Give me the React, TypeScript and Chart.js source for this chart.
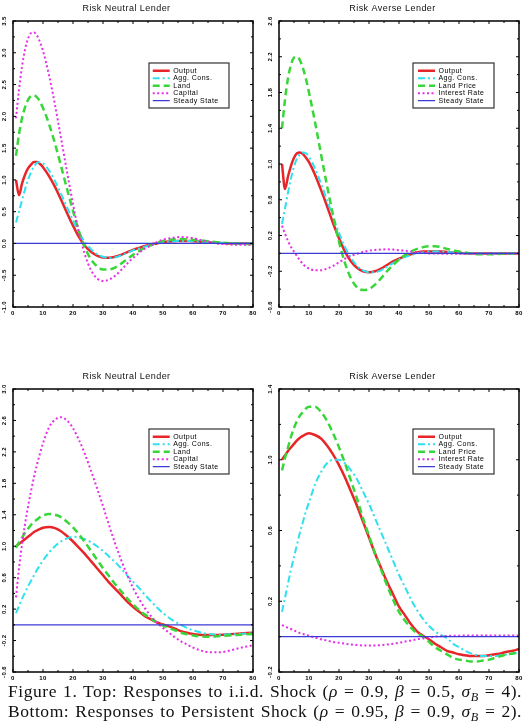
import React, { useEffect, useRef } from 'react';
import { Chart, registerables } from 'chart.js';

Chart.register(...registerables);

// ---------------- data ----------------
const PERIODS = [1, 2, 3, 4, 5, 6, 7, 8, 9, 10, 12, 14, 16, 18, 20, 22, 24, 26, 28, 30, 32, 34, 36, 38, 40, 42, 44, 46, 48, 50, 52, 54, 56, 58, 60, 62, 64, 66, 68, 70, 72, 74, 76, 78, 80];
const X_TICKS = [0, 10, 20, 30, 40, 50, 60, 70, 80];
const STEADY_T = [0, 80];
const STEADY_V = [0, 0];

// Top left: Risk Neutral Lender, i.i.d. shock
const RN_IID_Y_TICKS = [-1.0, -0.5, 0.0, 0.5, 1.0, 1.5, 2.0, 2.5, 3.0, 3.5];
const RN_IID_OUTPUT = [1.00, 0.76, 0.94, 1.08, 1.18, 1.24, 1.28, 1.28, 1.25, 1.20, 1.06, 0.89, 0.69, 0.48, 0.28, 0.10, -0.04, -0.13, -0.19, -0.22, -0.225, -0.21, -0.18, -0.14, -0.10, -0.07, -0.04, -0.015, 0.00, 0.02, 0.03, 0.035, 0.04, 0.04, 0.035, 0.03, 0.025, 0.015, 0.01, 0.005, 0.0, 0.0, 0.0, 0.0, 0.0];
const RN_IID_CONS = [0.33, 0.50, 0.68, 0.85, 1.00, 1.12, 1.21, 1.27, 1.28, 1.26, 1.15, 0.98, 0.78, 0.57, 0.36, 0.17, 0.02, -0.09, -0.17, -0.21, -0.23, -0.22, -0.19, -0.15, -0.11, -0.08, -0.05, -0.02, 0.0, 0.02, 0.03, 0.04, 0.04, 0.04, 0.035, 0.03, 0.025, 0.02, 0.01, 0.01, 0.005, 0.0, 0.0, 0.0, 0.0];
const RN_IID_LAND = [1.38, 1.72, 1.97, 2.14, 2.26, 2.32, 2.33, 2.30, 2.23, 2.13, 1.88, 1.57, 1.22, 0.86, 0.51, 0.19, -0.07, -0.25, -0.36, -0.41, -0.41, -0.38, -0.32, -0.25, -0.18, -0.12, -0.07, -0.03, 0.01, 0.04, 0.055, 0.065, 0.07, 0.065, 0.06, 0.05, 0.04, 0.03, 0.02, 0.01, 0.005, 0.0, -0.005, -0.01, -0.01];
const RN_IID_CAPITAL = [1.97, 2.42, 2.78, 3.05, 3.22, 3.31, 3.32, 3.27, 3.17, 3.03, 2.65, 2.18, 1.66, 1.13, 0.62, 0.17, -0.18, -0.42, -0.55, -0.59, -0.57, -0.51, -0.42, -0.32, -0.23, -0.15, -0.08, -0.03, 0.02, 0.06, 0.08, 0.095, 0.10, 0.095, 0.085, 0.06, 0.04, 0.02, 0.0, -0.01, -0.015, -0.02, -0.02, -0.02, -0.02];

// Top right: Risk Averse Lender, i.i.d. shock
const RA_IID_Y_TICKS = [-0.6, -0.2, 0.2, 0.6, 1.0, 1.4, 1.8, 2.2, 2.6];
const RA_IID_OUTPUT = [1.00, 0.72, 0.86, 0.98, 1.07, 1.12, 1.13, 1.11, 1.07, 1.02, 0.88, 0.71, 0.53, 0.34, 0.17, 0.02, -0.09, -0.16, -0.20, -0.21, -0.20, -0.17, -0.13, -0.09, -0.06, -0.03, -0.01, 0.01, 0.02, 0.02, 0.02, 0.02, 0.015, 0.01, 0.005, 0.0, 0.0, 0.0, 0.0, 0.0, 0.0, 0.0, 0.0, 0.0, 0.0];
const RA_IID_CONS = [0.33, 0.50, 0.68, 0.84, 0.97, 1.06, 1.11, 1.13, 1.12, 1.08, 0.95, 0.78, 0.60, 0.41, 0.23, 0.07, -0.05, -0.14, -0.19, -0.21, -0.21, -0.19, -0.15, -0.11, -0.07, -0.04, -0.02, 0.0, 0.01, 0.02, 0.02, 0.02, 0.015, 0.01, 0.005, 0.0, 0.0, 0.0, 0.0, 0.0, 0.0, 0.0, 0.0, 0.0, 0.0];
const RA_IID_LAND = [1.40, 1.72, 1.96, 2.11, 2.19, 2.20, 2.16, 2.07, 1.95, 1.80, 1.47, 1.11, 0.76, 0.43, 0.13, -0.11, -0.28, -0.38, -0.41, -0.40, -0.35, -0.28, -0.20, -0.13, -0.07, -0.02, 0.02, 0.05, 0.07, 0.08, 0.08, 0.07, 0.05, 0.035, 0.02, 0.01, 0.0, -0.01, -0.01, -0.01, -0.01, -0.005, 0.0, 0.0, 0.0];
const RA_IID_RATE = [0.31, 0.22, 0.14, 0.07, 0.02, -0.03, -0.08, -0.12, -0.15, -0.17, -0.19, -0.19, -0.17, -0.14, -0.10, -0.06, -0.03, -0.005, 0.015, 0.03, 0.038, 0.043, 0.045, 0.042, 0.035, 0.03, 0.02, 0.012, 0.005, 0.0, 0.0, -0.003, -0.005, -0.005, -0.005, -0.005, -0.005, -0.005, -0.005, -0.005, -0.003, 0.0, 0.0, 0.0, 0.0];

// Bottom left: Risk Neutral Lender, persistent shock
const RN_PER_Y_TICKS = [-0.6, -0.2, 0.2, 0.6, 1.0, 1.4, 1.8, 2.2, 2.6, 3.0];
const RN_PER_OUTPUT = [1.00, 1.03, 1.06, 1.09, 1.12, 1.15, 1.18, 1.20, 1.22, 1.235, 1.245, 1.23, 1.19, 1.13, 1.06, 0.98, 0.90, 0.81, 0.72, 0.63, 0.54, 0.46, 0.38, 0.30, 0.23, 0.17, 0.11, 0.07, 0.03, 0.005, -0.02, -0.05, -0.08, -0.10, -0.115, -0.125, -0.13, -0.13, -0.13, -0.125, -0.12, -0.115, -0.11, -0.105, -0.10];
const RN_PER_CONS = [0.15, 0.24, 0.33, 0.41, 0.49, 0.56, 0.63, 0.70, 0.76, 0.82, 0.92, 1.00, 1.06, 1.10, 1.12, 1.11, 1.09, 1.05, 1.00, 0.94, 0.87, 0.80, 0.72, 0.63, 0.55, 0.47, 0.38, 0.30, 0.22, 0.15, 0.09, 0.04, 0.0, -0.04, -0.07, -0.09, -0.11, -0.12, -0.125, -0.125, -0.12, -0.12, -0.115, -0.11, -0.11];
const RN_PER_LAND = [0.98, 1.05, 1.11, 1.17, 1.22, 1.27, 1.31, 1.34, 1.37, 1.39, 1.41, 1.40, 1.37, 1.31, 1.24, 1.15, 1.05, 0.94, 0.83, 0.72, 0.62, 0.52, 0.43, 0.34, 0.26, 0.19, 0.13, 0.08, 0.03, -0.01, -0.04, -0.07, -0.10, -0.12, -0.135, -0.145, -0.15, -0.15, -0.145, -0.14, -0.135, -0.13, -0.125, -0.12, -0.115];
const RN_PER_CAPITAL = [0.35, 0.72, 1.02, 1.28, 1.50, 1.70, 1.88, 2.04, 2.18, 2.31, 2.51, 2.61, 2.64, 2.60, 2.50, 2.35, 2.17, 1.96, 1.74, 1.51, 1.27, 1.04, 0.83, 0.64, 0.47, 0.33, 0.21, 0.11, 0.03, -0.04, -0.10, -0.16, -0.21, -0.25, -0.29, -0.32, -0.34, -0.35, -0.35, -0.345, -0.33, -0.31, -0.29, -0.275, -0.26];

// Bottom right: Risk Averse Lender, persistent shock
const RA_PER_Y_TICKS = [-0.2, 0.2, 0.6, 1.0, 1.4];
const RA_PER_OUTPUT = [1.00, 1.025, 1.05, 1.07, 1.09, 1.11, 1.125, 1.135, 1.145, 1.15, 1.14, 1.12, 1.08, 1.03, 0.97, 0.90, 0.82, 0.74, 0.65, 0.56, 0.47, 0.39, 0.31, 0.24, 0.17, 0.12, 0.07, 0.03, 0.005, -0.015, -0.04, -0.06, -0.08, -0.09, -0.10, -0.105, -0.11, -0.11, -0.11, -0.105, -0.10, -0.095, -0.085, -0.08, -0.07];
const RA_PER_CONS = [0.14, 0.22, 0.30, 0.38, 0.45, 0.52, 0.59, 0.65, 0.71, 0.76, 0.86, 0.93, 0.98, 1.00, 1.00, 0.98, 0.94, 0.89, 0.82, 0.75, 0.67, 0.59, 0.51, 0.43, 0.35, 0.28, 0.21, 0.15, 0.10, 0.06, 0.03, 0.01, -0.01, -0.04, -0.06, -0.08, -0.095, -0.105, -0.11, -0.11, -0.11, -0.105, -0.10, -0.095, -0.09];
const RA_PER_LAND = [0.94, 1.01, 1.07, 1.13, 1.18, 1.22, 1.25, 1.27, 1.29, 1.30, 1.30, 1.27, 1.22, 1.15, 1.07, 0.98, 0.88, 0.78, 0.67, 0.57, 0.47, 0.38, 0.29, 0.21, 0.14, 0.09, 0.05, 0.02, 0.0, -0.03, -0.06, -0.08, -0.10, -0.12, -0.13, -0.135, -0.14, -0.14, -0.135, -0.13, -0.12, -0.11, -0.10, -0.095, -0.09];
const RA_PER_RATE = [0.065, 0.058, 0.05, 0.043, 0.035, 0.028, 0.02, 0.015, 0.01, 0.005, -0.005, -0.015, -0.022, -0.03, -0.035, -0.04, -0.045, -0.048, -0.05, -0.05, -0.05, -0.048, -0.045, -0.04, -0.035, -0.028, -0.022, -0.015, -0.01, -0.005, 0.0, 0.002, 0.004, 0.005, 0.005, 0.006, 0.006, 0.006, 0.006, 0.006, 0.006, 0.006, 0.006, 0.006, 0.006];

// ---------------- styles ----------------
const LINE_STYLES: Record<string, any> = {
  output: { borderColor: '#e8262a', borderWidth: 2.5, borderDash: [] },
  cons: { borderColor: '#2fe0ee', borderWidth: 2, borderDash: [7, 3, 2, 3] },
  land: { borderColor: '#39d639', borderWidth: 2.5, borderDash: [7, 4] },
  dot: { borderColor: '#e52ee5', borderWidth: 2, borderDash: [2, 2.5] },
  steady: { borderColor: '#3b3bd6', borderWidth: 1.2, borderDash: [] },
};

const TICK_FONT = { family: 'Liberation Sans', size: 6, weight: 'bold' as const };
const LEGEND_FONT = { family: 'Liberation Sans', size: 7 };
const TITLE_FONT = { family: 'Liberation Sans', size: 9, weight: 'normal' as const };
const LETTER_SPACING = '0.45px';

const spacingPlugin = {
  id: 'spacing',
  beforeUpdate(chart: any) { chart.ctx.letterSpacing = LETTER_SPACING; },
  beforeDraw(chart: any) { chart.ctx.letterSpacing = LETTER_SPACING; },
};

const framePlugin = {
  id: 'frame',
  afterDatasetsDraw(chart: any) {
    const { ctx, chartArea: a, scales } = chart;
    const xs = scales.x.ticks.map((t: any) => t.value);
    const ys = scales.y.ticks.map((t: any) => t.value);
    const mids = (v: number[]) => v.slice(1).map((u, i) => (u + v[i]) / 2);
    ctx.save();
    ctx.strokeStyle = '#000';
    ctx.lineWidth = 1;
    ctx.setLineDash([]);
    ctx.beginPath();
    const tx = (v: number, len: number) => {
      const p = scales.x.getPixelForValue(v);
      ctx.moveTo(p, a.bottom); ctx.lineTo(p, a.bottom - len);
      ctx.moveTo(p, a.top); ctx.lineTo(p, a.top + len);
    };
    const ty = (v: number, len: number) => {
      const p = scales.y.getPixelForValue(v);
      ctx.moveTo(a.left, p); ctx.lineTo(a.left + len, p);
      ctx.moveTo(a.right, p); ctx.lineTo(a.right - len, p);
    };
    xs.forEach((v: number) => tx(v, 3));
    mids(xs).forEach((v) => tx(v, 2));
    ys.forEach((v: number) => ty(v, 3));
    mids(ys).forEach((v) => ty(v, 2));
    ctx.stroke();
    ctx.lineWidth = 1.5;
    ctx.strokeRect(a.left, a.top, a.width, a.height);
    ctx.restore();
  },
};

const legendPlace = {
  id: 'legendPlace',
  beforeDraw(chart: any, _args: any, opts: any) {
    const a = chart.chartArea;
    const ctx = chart.ctx;
    const bx = a.left + opts.dx;
    const by = a.top + opts.dy;
    ctx.save();
    ctx.fillStyle = '#fff';
    ctx.fillRect(bx, by, opts.w, opts.h);
    ctx.strokeStyle = '#333';
    ctx.lineWidth = 1.2;
    ctx.strokeRect(bx, by, opts.w, opts.h);
    ctx.restore();
    const lg = chart.legend;
    if (lg) {
      lg.left = bx + opts.ix;
      lg.top = by + opts.iy;
      lg.right = lg.left + opts.w;
      lg.bottom = lg.top + 100;
    }
  },
};

const legendLabels = (chart: any) => {
  const items = (Chart.defaults.plugins.legend.labels as any).generateLabels(chart);
  items.forEach((it: any) => {
    const ds = chart.data.datasets[it.datasetIndex];
    it.lineDash = ds.borderDash;
    it.lineWidth = ds.borderWidth;
    it.strokeStyle = ds.borderColor;
    it.fillStyle = ds.borderColor;
  });
  return items;
};

type SeriesDef = { label: string; values: number[]; kind: string };

type PanelProps = {
  title: string;
  yTicks: number[];
  series: SeriesDef[];
  left: number;
  top: number;
  padBottom: number;
  legend: { dx: number; dy: number; w: number; h: number; ix: number; iy: number };
};

const CW = 263;
const CH = 320;

function Panel({ title, yTicks, series, left, top, padBottom, legend }: PanelProps) {
  const ref = useRef<HTMLCanvasElement>(null);
  useEffect(() => {
    const datasets: any[] = series.map((s, i) => ({
      label: s.label,
      data: PERIODS.map((t, j) => ({ x: t, y: s.values[j] })),
      ...LINE_STYLES[s.kind],
      pointRadius: 0,
      fill: false,
      cubicInterpolationMode: 'monotone',
      order: -i,
    }));
    datasets.push({
      label: 'Steady State',
      data: STEADY_T.map((t, j) => ({ x: t, y: STEADY_V[j] })),
      ...LINE_STYLES.steady,
      pointRadius: 0,
      fill: false,
      order: -series.length,
    });
    const chart = new Chart(ref.current as HTMLCanvasElement, {
      type: 'line',
      data: { datasets },
      options: {
        animation: false,
        responsive: false,
        events: [],
        layout: { padding: { left: 0, right: 10, top: 0, bottom: padBottom } },
        plugins: {
          title: {
            display: true,
            text: title,
            color: '#111',
            font: TITLE_FONT,
            padding: { top: 3, bottom: 7.2 },
          },
          legend: {
            position: 'chartArea',
            align: 'start',
            labels: {
              usePointStyle: true,
              pointStyle: 'line',
              pointStyleWidth: 17,
              boxHeight: 7,
              padding: 0.5,
              color: '#000',
              font: LEGEND_FONT,
              generateLabels: legendLabels,
              sort: (a: any, b: any) => a.datasetIndex - b.datasetIndex,
            },
          },
          tooltip: { enabled: false },
          legendPlace: legend,
        } as any,
        scales: {
          x: {
            type: 'linear',
            min: 0,
            max: 80,
            afterBuildTicks: (s: any) => { s.ticks = X_TICKS.map((v) => ({ value: v })); },
            afterFit: (s: any) => { s.height = 12; },
            grid: { display: false, drawTicks: false },
            border: { display: false },
            ticks: { font: TICK_FONT, color: '#000', padding: 3, maxRotation: 0, autoSkip: false },
          },
          y: {
            type: 'linear',
            min: yTicks[0],
            max: yTicks[yTicks.length - 1],
            afterBuildTicks: (s: any) => { s.ticks = yTicks.map((v) => ({ value: v })); },
            afterFit: (s: any) => { s.width = 13; },
            grid: { display: false, drawTicks: false },
            border: { display: false },
            ticks: {
              font: TICK_FONT,
              color: '#000',
              padding: 3,
              minRotation: 90,
              maxRotation: 90,
              crossAlign: 'center',
              autoSkip: false,
              callback: (v: any) => Number(v).toFixed(1),
            },
          },
        } as any,
      },
      plugins: [spacingPlugin, framePlugin, legendPlace],
    } as any);
    return () => chart.destroy();
  }, []);
  return (
    <canvas
      ref={ref}
      width={CW}
      height={CH}
      style={{ position: 'absolute', left, top, width: CW, height: CH }}
    />
  );
}

const LEG_LEFT = { dx: 136, dy: 42, w: 80, h: 45, ix: 3.2, iy: 3.7 };
const LEG_RIGHT = { dx: 134, dy: 42, w: 81, h: 45, ix: 4.5, iy: 3.7 };
const LEG_LEFT_B = { ...LEG_LEFT, dy: 40 };
const LEG_RIGHT_B = { ...LEG_RIGHT, dy: 40 };

const SUB_STYLE: React.CSSProperties = { fontSize: '0.7em', position: 'relative', top: '0.3em', fontStyle: 'italic' };
const LINE_STYLE: React.CSSProperties = { textAlign: 'justify', textAlignLast: 'justify', whiteSpace: 'nowrap' };

export default function App() {
  return (
    <div style={{ position: 'absolute', left: 0, top: 0, width: 529, height: 727, background: '#fff', overflow: 'hidden' }}>
      <Panel
        title="Risk Neutral Lender"
        yTicks={RN_IID_Y_TICKS}
        left={0}
        top={0}
        padBottom={1}
        legend={LEG_LEFT}
        series={[
          { label: 'Output', values: RN_IID_OUTPUT, kind: 'output' },
          { label: 'Agg. Cons.', values: RN_IID_CONS, kind: 'cons' },
          { label: 'Land', values: RN_IID_LAND, kind: 'land' },
          { label: 'Capital', values: RN_IID_CAPITAL, kind: 'dot' },
        ]}
      />
      <Panel
        title="Risk Averse Lender"
        yTicks={RA_IID_Y_TICKS}
        left={266}
        top={0}
        padBottom={1}
        legend={LEG_RIGHT}
        series={[
          { label: 'Output', values: RA_IID_OUTPUT, kind: 'output' },
          { label: 'Agg. Cons.', values: RA_IID_CONS, kind: 'cons' },
          { label: 'Land Price', values: RA_IID_LAND, kind: 'land' },
          { label: 'Interest Rate', values: RA_IID_RATE, kind: 'dot' },
        ]}
      />
      <Panel
        title="Risk Neutral Lender"
        yTicks={RN_PER_Y_TICKS}
        left={0}
        top={368}
        padBottom={4}
        legend={LEG_LEFT_B}
        series={[
          { label: 'Output', values: RN_PER_OUTPUT, kind: 'output' },
          { label: 'Agg. Cons.', values: RN_PER_CONS, kind: 'cons' },
          { label: 'Land', values: RN_PER_LAND, kind: 'land' },
          { label: 'Capital', values: RN_PER_CAPITAL, kind: 'dot' },
        ]}
      />
      <Panel
        title="Risk Averse Lender"
        yTicks={RA_PER_Y_TICKS}
        left={266}
        top={368}
        padBottom={4}
        legend={LEG_RIGHT_B}
        series={[
          { label: 'Output', values: RA_PER_OUTPUT, kind: 'output' },
          { label: 'Agg. Cons.', values: RA_PER_CONS, kind: 'cons' },
          { label: 'Land Price', values: RA_PER_LAND, kind: 'land' },
          { label: 'Interest Rate', values: RA_PER_RATE, kind: 'dot' },
        ]}
      />
      <div
        style={{
          position: 'absolute',
          left: 8,
          top: 682,
          width: 514,
          fontFamily: '"Liberation Serif", serif',
          fontSize: 17.5,
          letterSpacing: '0.55px',
          lineHeight: '18px',
          color: '#111',
        }}
      >
        <div style={LINE_STYLE}>
          Figure 1. Top: Responses to i.i.d. Shock (<i>ρ</i> = 0.9, <i>β</i> = 0.5, <i>σ</i>
          <span style={SUB_STYLE}>B</span> = 4).
        </div>
        <div style={LINE_STYLE}>
          Bottom: Responses to Persistent Shock (<i>ρ</i> = 0.95, <i>β</i> = 0.9, <i>σ</i>
          <span style={SUB_STYLE}>B</span> = 2).
        </div>
      </div>
    </div>
  );
}
